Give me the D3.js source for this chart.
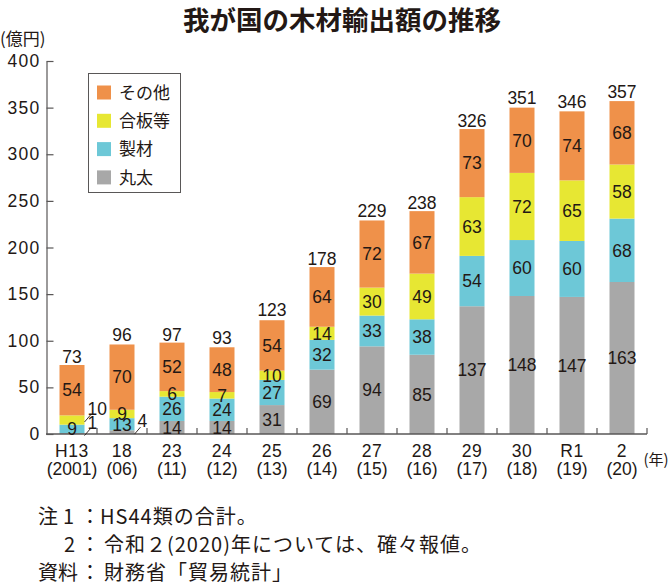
<!DOCTYPE html>
<html><head><meta charset="utf-8">
<script src="https://cdn.jsdelivr.net/npm/d3@7"></script>
<style>
html,body{margin:0;padding:0;background:#fff;}
svg{display:block;}
text{fill:#231815;}
</style></head>
<body>
<svg id="chart" width="670" height="588"></svg>
<script>
const categories = ["H13","18","23","24","25","26","27","28","29","30","R1","2"];
const subLabels = ["(2001)","(06)","(11)","(12)","(13)","(14)","(15)","(16)","(17)","(18)","(19)","(20)"];
const seriesNames = ["丸太","製材","合板等","その他"];
const logs     = [1, 4, 14, 14, 31, 69, 94, 85, 137, 148, 147, 163];
const lumber   = [9, 13, 26, 24, 27, 32, 33, 38, 54, 60, 60, 68];
const plywood  = [10, 9, 6, 7, 10, 14, 30, 49, 63, 72, 65, 58];
const others   = [54, 70, 52, 48, 54, 64, 72, 67, 73, 70, 74, 68];
const totals   = [73, 96, 97, 93, 123, 178, 229, 238, 326, 351, 346, 357];
const yTicks   = [0, 50, 100, 150, 200, 250, 300, 350, 400];
const colors   = ["#A8A8A8", "#6DC8D7", "#E7E733", "#EF914A"];
// labels drawn outside the bar with a leader line: [category index, series index]
const callouts = [[0, 2], [0, 0], [1, 0]];

const seriesValues = [logs, lumber, plywood, others];
const svg = d3.select("#chart");
const NUM = "'Liberation Sans', Arial, sans-serif";
const JP = "'Noto Sans CJK JP', sans-serif";

const x = d3.scaleBand().domain(categories).range([47, 647]).paddingInner(0.5).paddingOuter(0.25);
const y = d3.scaleLinear().domain([0, 400]).range([434, 61]);

// title
svg.append("text").attr("x", 342).attr("y", 30).attr("text-anchor", "middle")
  .style("font-family", JP).style("font-weight", "bold").style("font-size", "26.5px")
  .text("我が国の木材輸出額の推移");
svg.append("text").attr("x", 0).attr("y", 45)
  .style("font-family", JP).style("font-size", "17px").text("(億円)");

// stacked data
const rows = categories.map((c, i) => {
  const o = {cat: c};
  seriesNames.forEach((s, k) => o[s] = seriesValues[k][i]);
  return o;
});
const stack = d3.stack().keys(seriesNames)(rows);

const g = svg.append("g");
stack.forEach((layer, k) => {
  g.selectAll(null).data(layer).enter().append("rect")
    .attr("x", d => x(d.data.cat))
    .attr("width", x.bandwidth())
    .attr("y", d => y(d[1]))
    .attr("height", d => y(d[0]) - y(d[1]))
    .attr("fill", colors[k]);
});

// y axis
const yAxis = d3.axisLeft(y).tickValues(yTicks).tickSizeInner(-7).tickSizeOuter(0).tickPadding(6);
const ya = svg.append("g").attr("transform", "translate(46.5,0)").call(yAxis);
ya.select(".domain").attr("stroke", "#595757").attr("stroke-width", 1.2);
ya.selectAll(".tick line").attr("stroke", "#595757").attr("stroke-width", 1.2);
ya.selectAll(".tick text").style("font-family", NUM).style("font-size", "17.5px")
  .style("letter-spacing", "1.3px").attr("fill", "#231815");

// x axis baseline + ticks at band boundaries
const step = x.step();
svg.append("line").attr("x1", 46).attr("x2", x.range()[1]).attr("y1", y(0)).attr("y2", y(0))
  .attr("stroke", "#595757").attr("stroke-width", 1.4);
categories.forEach(c => {
  const bx = x(c) + x.bandwidth() + step * x.paddingInner() / 2;
  svg.append("line").attr("x1", bx).attr("x2", bx).attr("y1", y(0)).attr("y2", y(0) - 6)
    .attr("stroke", "#595757").attr("stroke-width", 1.2);
});
categories.forEach((c, i) => {
  const cx = x(c) + x.bandwidth() / 2;
  svg.append("text").attr("x", cx).attr("y", 457).attr("text-anchor", "middle")
    .style("font-family", NUM).style("font-size", "17.5px").style("letter-spacing", "0.6px").text(c);
  svg.append("text").attr("x", cx).attr("y", 475).attr("text-anchor", "middle")
    .style("font-family", NUM).style("font-size", "17.5px").text(subLabels[i]);
});
svg.append("text").attr("x", 656).attr("y", 465).attr("text-anchor", "middle")
  .style("font-family", JP).style("font-size", "15px").text("(年)");

// segment labels
const isCallout = (i, k) => callouts.some(c => c[0] === i && c[1] === k);
stack.forEach((layer, k) => {
  layer.forEach((d, i) => {
    const cy = y((d[0] + d[1]) / 2);
    const v = seriesValues[k][i];
    if (isCallout(i, k)) {
      const bx = x(d.data.cat) + x.bandwidth();
      svg.append("line").attr("x1", bx).attr("y1", cy + 2).attr("x2", bx + 6).attr("y2", cy - 5)
        .attr("stroke", "#231815").attr("stroke-width", 0.9);
      svg.append("text").attr("x", bx + 3).attr("y", cy - 5)
        .style("font-family", NUM).style("font-size", "17.5px").text(v);
    } else {
      svg.append("text").attr("x", x(d.data.cat) + x.bandwidth() / 2).attr("y", cy)
        .attr("dy", "0.36em").attr("text-anchor", "middle")
        .style("font-family", NUM).style("font-size", "17.5px").text(v);
    }
  });
});

// totals
categories.forEach((c, i) => {
  svg.append("text").attr("x", x(c) + x.bandwidth() / 2).attr("y", y(totals[i]) - 3)
    .attr("text-anchor", "middle").style("font-family", NUM).style("font-size", "17.5px").text(totals[i]);
});

// legend
const lg = svg.append("g");
lg.append("rect").attr("x", 88.5).attr("y", 73.5).attr("width", 92).attr("height", 119)
  .attr("fill", "#fff").attr("stroke", "#595757").attr("stroke-width", 1);
const legendOrder = [3, 2, 1, 0];
legendOrder.forEach((k, j) => {
  const cy = 92.5 + j * 28.3;
  lg.append("rect").attr("x", 97).attr("y", cy - 7).attr("width", 14).attr("height", 14).attr("fill", colors[k]);
  lg.append("text").attr("x", 119).attr("y", cy).attr("dy", "0.36em")
    .style("font-family", JP).style("font-size", "17px").text(seriesNames[k]);
});

// footnotes
const notes = [
  {head: "注1", hx: 38, body: "HS44類の合計。", bx: 100, by: 524},
  {head: "2", hx: 64, body: "令和２(2020)年については、確々報値。", bx: 104, by: 552},
  {head: "資料", hx: 38, body: "財務省「貿易統計」", bx: 104, by: 580}
];
notes.forEach(n => {
  svg.append("text").attr("x", n.hx).attr("y", n.by).style("font-family", JP).style("font-size", "20px")
    .style("letter-spacing", n.head === "注1" ? "5px" : "0px").text(n.head);
  svg.append("text").attr("x", 90).attr("y", n.by).attr("text-anchor", "middle")
    .style("font-family", JP).style("font-size", "20px").text("：");
  svg.append("text").attr("x", n.bx).attr("y", n.by).style("font-family", JP).style("font-size", "20px")
    .style("letter-spacing", "1px").text(n.body);
});
</script>
</body></html>
